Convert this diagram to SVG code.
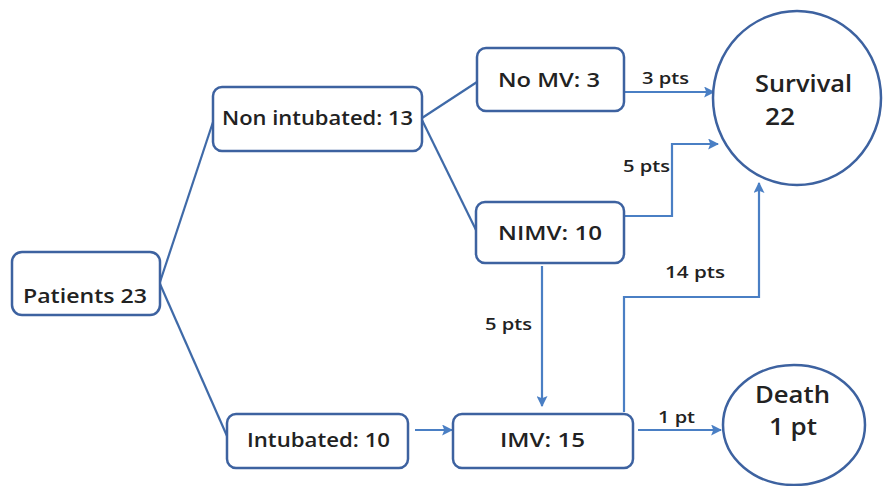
<svg xmlns="http://www.w3.org/2000/svg" width="883" height="486" viewBox="0 0 883 486">
<style>
.box{fill:#fff;stroke:#3d62a0;stroke-width:2.5}
.circ{fill:#fff;stroke:#3d62a0;stroke-width:2.5}
.ln{fill:none;stroke:#3f6aa8;stroke-width:2.2}
.ar{fill:none;stroke:#4a7fc4;stroke-width:2.2;marker-end:url(#ah)}
.t{font-family:"Open Sans","Liberation Sans",sans-serif;font-weight:600;fill:#222;font-size:20px}
.tb{font-family:"Open Sans","Liberation Sans",sans-serif;font-weight:600;fill:#222;font-size:23px}
.ts{font-family:"Open Sans","Liberation Sans",sans-serif;font-weight:600;fill:#222;font-size:16px}
</style>
<defs>
<marker id="ah" viewBox="0 0 10 10" refX="9" refY="5" markerWidth="5" markerHeight="5" orient="auto" markerUnits="strokeWidth">
<path d="M0,0 L10,5 L0,10 L2,5 z" fill="#4a7fc4"/>
</marker>
</defs>
<rect width="883" height="486" fill="#fff"/>
<g id="connectors">
<line class="ln" x1="160" y1="282" x2="213" y2="122"/>
<line class="ln" x1="160" y1="284" x2="227" y2="436"/>
<line class="ln" x1="422" y1="118" x2="477" y2="82"/>
<line class="ln" x1="422" y1="120" x2="476" y2="230"/>
<polyline class="ar" points="415,430 452,430"/>
<polyline class="ar" points="625,92 714,92"/>
<polyline class="ar" points="625,216 672,216 672,144 718,144"/>
<polyline class="ar" points="542,266 542,406"/>
<polyline class="ar" points="624,412 624,297 759,297 759,183"/>
<polyline class="ar" points="638,430 721,430"/>
<text class="ts" x="642" y="84" textLength="47" lengthAdjust="spacingAndGlyphs">3 pts</text>
<text class="ts" x="623" y="172" textLength="47" lengthAdjust="spacingAndGlyphs">5 pts</text>
<text class="ts" x="485" y="330" textLength="47" lengthAdjust="spacingAndGlyphs">5 pts</text>
<text class="ts" x="665" y="278" textLength="60" lengthAdjust="spacingAndGlyphs">14 pts</text>
<text class="ts" x="658" y="423" textLength="37" lengthAdjust="spacingAndGlyphs">1 pt</text>
</g>
<g id="patients">
<rect class="box" x="12" y="252" width="148" height="63" rx="10"/>
<text class="t" x="23" y="303" textLength="124" lengthAdjust="spacingAndGlyphs">Patients 23</text>
</g>
<g id="nonintubated">
<rect class="box" x="213" y="87" width="209" height="64" rx="9"/>
<text class="t" x="222" y="125" textLength="191" lengthAdjust="spacingAndGlyphs">Non intubated: 13</text>
</g>
<g id="nomv">
<rect class="box" x="477" y="48" width="147" height="63" rx="9"/>
<text class="t" x="498" y="87" textLength="102" lengthAdjust="spacingAndGlyphs">No MV: 3</text>
</g>
<g id="nimv">
<rect class="box" x="476" y="202" width="148" height="61" rx="9"/>
<text class="t" x="498" y="240" textLength="104" lengthAdjust="spacingAndGlyphs">NIMV: 10</text>
</g>
<g id="intubated">
<rect class="box" x="227" y="414" width="181" height="54" rx="9"/>
<text class="t" x="247" y="447" textLength="143" lengthAdjust="spacingAndGlyphs">Intubated: 10</text>
</g>
<g id="imv">
<rect class="box" x="453" y="414" width="180" height="54" rx="9"/>
<text class="t" x="500" y="447" textLength="85" lengthAdjust="spacingAndGlyphs">IMV: 15</text>
</g>
<g id="survival">
<ellipse class="circ" cx="797" cy="98" rx="84" ry="87"/>
<text class="tb" x="755" y="92" textLength="97" lengthAdjust="spacingAndGlyphs">Survival</text>
<text class="tb" x="765" y="125" textLength="30" lengthAdjust="spacingAndGlyphs">22</text>
</g>
<g id="death">
<ellipse class="circ" cx="794" cy="425" rx="71" ry="60"/>
<text class="tb" x="755" y="403" textLength="75" lengthAdjust="spacingAndGlyphs">Death</text>
<text class="tb" x="769" y="435" textLength="48" lengthAdjust="spacingAndGlyphs">1 pt</text>
</g>
</svg>
